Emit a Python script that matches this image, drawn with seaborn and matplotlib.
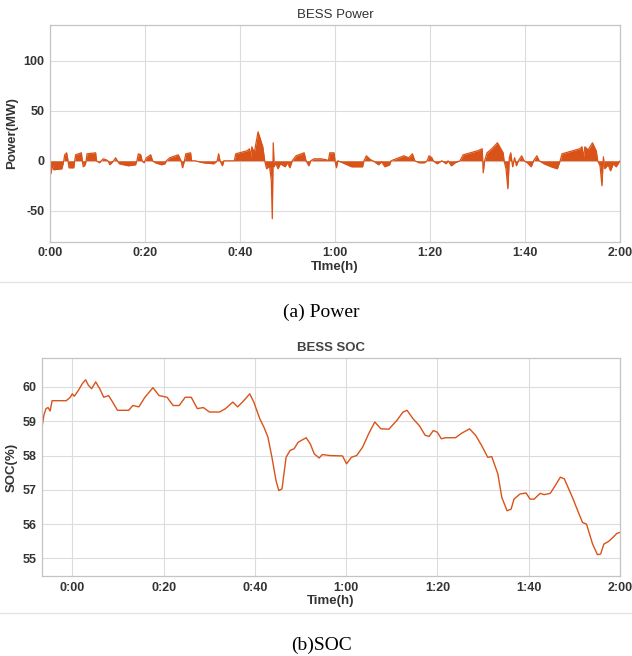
import matplotlib
matplotlib.use("Agg")
import matplotlib.pyplot as plt
from matplotlib.lines import Line2D
import seaborn as sns
import pandas as pd
import numpy as np

sns.set_theme(style="whitegrid")
plt.rcParams['font.family'] = ['Liberation Sans', 'DejaVu Sans']
plt.rcParams['axes.unicode_minus'] = False

# --- Data (time in minutes) ---
power_t = [0, 0.2, 0.5, 0.8, 2.5, 2.9, 3.1, 3.5, 3.8, 4.0, 5.0, 5.2, 5.4, 6.6, 6.8, 7.0, 7.4, 7.6,
           7.8, 9.6, 9.8, 10.4, 10.8, 11.2, 11.8, 12.2, 12.6, 13.0, 13.4, 13.8, 14.2, 14.6, 16.5,
           18.0, 18.3, 18.6, 19.1, 19.4, 19.8, 20.3, 21.2, 21.6, 22.2, 23.5, 24.2, 24.5, 25.2, 27.0,
           27.6, 27.9, 28.3, 28.6, 29.6, 29.8, 30.5, 32.3, 34.5, 35.2, 35.5, 35.8, 36.3, 36.6, 38.8,
           39.1, 41.5, 42.0, 42.2, 42.5, 43.0, 43.8, 44.8, 45.2, 45.6, 46.2, 46.6, 46.8, 47.0, 47.2,
           47.5, 48.0, 48.5, 49.5, 50.0, 50.5, 51.0, 51.8, 53.5, 53.9, 54.5, 54.9, 55.6, 57.0, 58.2,
           58.6, 58.9, 59.8, 60.0, 60.3, 60.6, 61.6, 63.5, 65.8, 66.1, 66.6, 67.5, 68.0, 69.2, 69.8,
           70.5, 71.5, 71.8, 73.4, 74.5, 75.5, 76.3, 76.8, 77.7, 78.8, 79.4, 79.8, 80.4, 80.7, 81.5,
           82.5, 83.4, 83.8, 84.5, 85.3, 86.3, 87.0, 88.5, 90.0, 91.0, 91.2, 91.5, 92.0, 93.0, 94.2,
           95.4, 95.6, 96.0, 96.4, 96.7, 97.0, 97.4, 97.8, 98.2, 98.6, 99.3, 99.8, 100.5, 101.3,
           101.8, 102.5, 103.0, 104.0, 105.5, 106.8, 107.4, 107.8, 110.0, 111.5, 112.0, 112.3,
           112.6, 113.3, 114.2, 115.0, 115.3, 115.8, 116.2, 116.5, 116.8, 117.5, 118.0, 118.6,
           119.2, 120.0]
power_mw = [8, -13, -4, -9, -8, 0, 6, 8, 0, -7, -7, 0, 6, 8, 0, -6, -4, 0,
            7, 8, 0, -2, 0, 2, 1, 0, -4, -2, 0, 3, 0, -3, -5,
            -4, 0, 7, 6, 0, -2, 3, 6, 0, -2, -4, -3, 0, 3, 6,
            0, -7, 0, 7, 8, 0, 0, -2, -3, 0, 7, 0, -5, 0, 0,
            7, 10, 12, 3, 14, 8, 29, 14, 0, -8, -5, -20, -58, 18, -6,
            -2, -8, -3, -6, -2, -7, 0, 5, 8, 0, -5, 0, 2, 2, 1,
            0, 8, 8, 0, -7, 0, -2, -6, -6, 0, 5, 1, 0, -4, -1,
            -6, -4, 0, 3, 5, 3, 7, 0, -2, -2, 0, 5, 3, 0, -3,
            0, -3, 0, -5, -2, 0, 6, 8, 10, 12, -12, 0, 8, 12, 18,
            8, 0, -8, -28, 3, 8, -6, 3, -5, 0, 5, 0, -2, -6,
            0, 5, 0, -3, -6, -8, 0, 7, 10, 12, 14, 3,
            14, 11, 18, 10, 0, -5, -25, 4, -8, -4, -10, -3,
            -6, 0]

soc_t = [-6.63, -6.19, -5.74, -5.30, -4.86, -4.42, -3.53, -2.65, -1.33, -0.44, 0, 0.44, 1.33,
         2.21, 2.92, 3.53, 4.24, 5.13, 6.01, 6.89, 7.95, 8.84, 9.90, 11.05, 12.37, 13.26, 14.58,
         15.91, 17.67, 19.00, 20.77, 22.09, 23.42, 24.74, 26.07, 27.39, 28.72, 30.05, 32.26,
         33.58, 35.17, 36.23, 37.56, 38.88, 39.77, 41.09, 41.98, 42.86, 43.74, 44.63, 45.25,
         45.95, 46.84, 47.72, 48.60, 49.49, 51.25, 52.14, 53.02, 54.08, 54.79, 56.56, 59.21,
         60.09, 61.15, 62.30, 63.63, 64.95, 66.28, 67.60, 69.37, 71.14, 72.46, 73.35, 74.67,
         76.00, 77.32, 78.21, 79.09, 79.98, 80.86, 81.74, 83.95, 85.28, 87.04, 88.37, 89.70,
         91.02, 91.90, 93.23, 94.11, 95.26, 96.15, 96.77, 98.09, 99.42, 100.30, 101.18, 102.51,
         103.39, 104.72, 105.60, 106.93, 107.81, 109.58, 110.90, 111.79, 112.67, 114.00,
         115.06, 115.76, 116.47, 117.53, 118.42, 119.30, 120.0]
soc_pct = [58.83, 59.2, 59.37, 59.4, 59.3, 59.6, 59.6, 59.6, 59.6, 59.7, 59.8, 59.73, 59.9,
           60.1, 60.21, 60.05, 59.95, 60.15, 59.95, 59.7, 59.75, 59.56, 59.32, 59.32, 59.32,
           59.46, 59.42, 59.7, 59.98, 59.75, 59.7, 59.46, 59.46, 59.7, 59.7, 59.37, 59.4, 59.27,
           59.27, 59.37, 59.56, 59.42, 59.6, 59.8, 59.56, 59.07, 58.83, 58.54, 57.95, 57.27,
           56.98, 57.03, 57.95, 58.15, 58.2, 58.39, 58.52, 58.34, 58.05, 57.93, 58.03, 58.0,
           57.99, 57.76, 57.95, 58.0, 58.25, 58.64, 58.98, 58.78, 58.77, 59.03, 59.27, 59.32,
           59.07, 58.88, 58.59, 58.56, 58.73, 58.68, 58.49, 58.52, 58.52, 58.65, 58.78, 58.59,
           58.29, 57.95, 57.97, 57.47, 56.78, 56.39, 56.44, 56.73, 56.88, 56.91, 56.73, 56.73,
           56.9, 56.86, 56.9, 57.08, 57.37, 57.32, 56.78, 56.34, 56.05, 56.0, 55.42, 55.11,
           55.13, 55.42, 55.5, 55.61, 55.73, 55.76]

time_ticks = [0, 20, 40, 60, 80, 100, 120]
time_labels = ['0:00', '0:20', '0:40', '1:00', '1:20', '1:40', '2:00']
power_ticks = [-50, 0, 50, 100]
soc_ticks = [55, 56, 57, 58, 59, 60]

orange = '#D95319'
tick_col = '#333333'

power_df = pd.DataFrame({'t': power_t, 'p': power_mw})
soc_df = pd.DataFrame({'t': soc_t, 'soc': soc_pct})

fig = plt.figure(figsize=(6.32, 6.56), dpi=100)
fig.patch.set_facecolor('white')
ax1 = fig.add_axes([0.0791, 0.6316, 0.9019, 0.3303])
ax2 = fig.add_axes([0.066, 0.122, 0.915, 0.332])


def style_axes(ax):
    ax.set_facecolor('white')
    ax.grid(True, color='#dcdcdc', linewidth=0.8)
    for s in ax.spines.values():
        s.set_color('#c4c4c4')
        s.set_linewidth(0.9)
    ax.tick_params(length=0, pad=4, labelsize=9, colors=tick_col)
    for lab in ax.get_xticklabels() + ax.get_yticklabels():
        lab.set_fontweight('bold')


# --- Power (area plot) ---
ax1.fill_between(power_df['t'], power_df['p'], 0, color=orange, linewidth=0)
sns.lineplot(data=power_df, x='t', y='p', ax=ax1, color=orange, linewidth=0.9)
ax1.set_xlim(0, 120)
ax1.set_ylim(-81, 136)
ax1.set_xticks(time_ticks)
ax1.set_xticklabels(time_labels)
ax1.set_yticks(power_ticks)
ax1.set_title('BESS Power', fontsize=9.5, color='#333333', pad=5)
ax1.set_xlabel('TIme(h)', fontsize=9.5, fontweight='bold', color=tick_col, labelpad=1)
ax1.set_ylabel('Power(MW)', fontsize=9.5, fontweight='bold', color=tick_col, labelpad=4)
style_axes(ax1)

# --- SOC ---
sns.lineplot(data=soc_df, x='t', y='soc', ax=ax2, color=orange, linewidth=1.0)
ax2.set_xlim(-6.7, 120)
ax2.set_ylim(54.49, 60.84)
ax2.set_xticks(time_ticks)
ax2.set_xticklabels(time_labels)
ax2.set_yticks(soc_ticks)
ax2.set_title('BESS SOC', fontsize=9.5, fontweight='bold', color='#444444', pad=5)
ax2.set_xlabel('Time(h)', fontsize=9.5, fontweight='bold', color=tick_col, labelpad=1)
ax2.set_ylabel('SOC(%)', fontsize=9.5, fontweight='bold', color=tick_col, labelpad=3)
style_axes(ax2)

# faint separators under each panel
for yy in [1 - 282 / 656, 1 - 613 / 656]:
    fig.add_artist(Line2D([0, 1], [yy, yy], color='#e4e4e4', linewidth=1.0))

# captions
fig.text(0.508, 1 - 312 / 656, '(a) Power', ha='center', va='center',
         fontsize=14, family=['Liberation Serif', 'DejaVu Serif'], color='black')
fig.text(0.508, 1 - 645 / 656, '(b)SOC', ha='center', va='center',
         fontsize=14, family=['Liberation Serif', 'DejaVu Serif'], color='black')

fig.savefig('out.png', dpi=100)
